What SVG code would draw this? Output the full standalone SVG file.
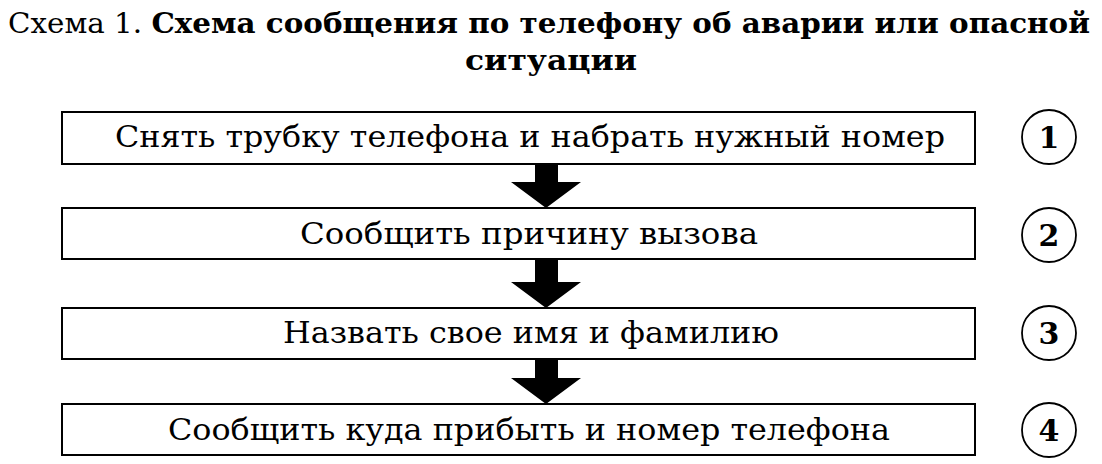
<svg xmlns="http://www.w3.org/2000/svg" width="1102" height="464" viewBox="0 0 1102 464">
<style>
.t{font-family:"DejaVu Serif","Liberation Serif",serif;fill:#000}
.title{font-size:27px;font-weight:bold}
.lbl{font-size:30px;text-anchor:middle}
.num{font-size:30px;font-weight:bold;text-anchor:middle}
.box{fill:#fff;stroke:#000;stroke-width:2}
.circ{fill:#fff;stroke:#000;stroke-width:1.8}
.arr{fill:#000}
</style>
<rect width="1102" height="464" fill="#fff"/>
<g id="title">
<text class="t title" x="8" y="33" textLength="1082" lengthAdjust="spacingAndGlyphs"><tspan font-weight="normal">Схема 1. </tspan>Схема сообщения по телефону об аварии или опасной</text>
<text class="t title" x="465" y="70" textLength="172" lengthAdjust="spacingAndGlyphs">ситуации</text>
</g>
<g id="connectors">
<path class="arr" d="M535,164 H558 V182 H581 L546,208 L511,182 H535 Z"/>
<path class="arr" d="M535,259 H558 V282 H581 L546,308 L511,282 H535 Z"/>
<path class="arr" d="M535,359 H558 V378 H581 L546,404 L511,378 H535 Z"/>
</g>
<g id="step1">
<rect class="box" x="62" y="112" width="913" height="52"/>
<text class="t lbl" x="530" y="147" textLength="830" lengthAdjust="spacingAndGlyphs">Снять трубку телефона и набрать нужный номер</text>
<circle class="circ" cx="1049" cy="137" r="27"/>
<text class="t num" x="1049" y="148">1</text>
</g>
<g id="step2">
<rect class="box" x="62" y="208" width="913" height="51"/>
<text class="t lbl" x="529" y="244" textLength="458" lengthAdjust="spacingAndGlyphs">Сообщить причину вызова</text>
<circle class="circ" cx="1049" cy="235" r="27"/>
<text class="t num" x="1049" y="246">2</text>
</g>
<g id="step3">
<rect class="box" x="62" y="308" width="913" height="51"/>
<text class="t lbl" x="531" y="343" textLength="496" lengthAdjust="spacingAndGlyphs">Назвать свое имя и фамилию</text>
<circle class="circ" cx="1049" cy="333" r="27"/>
<text class="t num" x="1049" y="344">3</text>
</g>
<g id="step4">
<rect class="box" x="62" y="404" width="913" height="51"/>
<text class="t lbl" x="529" y="440" textLength="722" lengthAdjust="spacingAndGlyphs">Сообщить куда прибыть и номер телефона</text>
<circle class="circ" cx="1049" cy="430" r="27"/>
<text class="t num" x="1049" y="441">4</text>
</g>
</svg>
